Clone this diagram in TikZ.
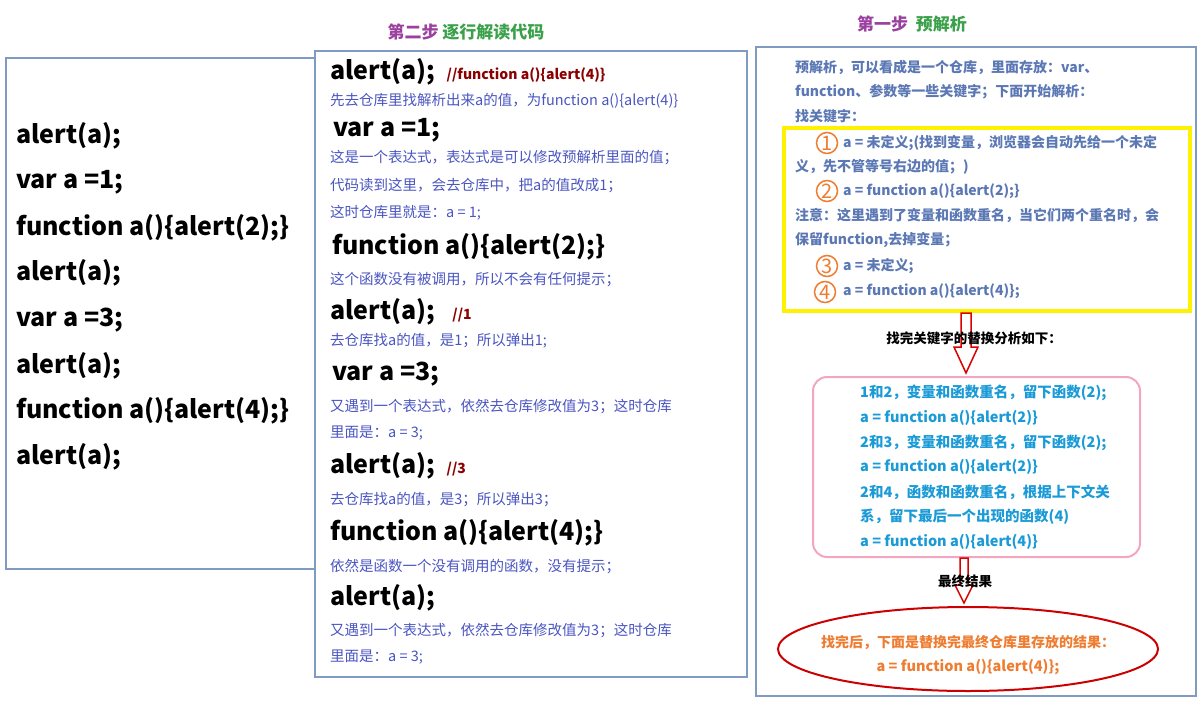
\documentclass[tikz,border=0pt]{standalone}
\usepackage{fontspec}
\setmainfont{Noto Sans CJK SC}
\definecolor{frame}{HTML}{7F9CC0}
\definecolor{expl}{HTML}{4A55C0}
\definecolor{rtext}{HTML}{5B78B5}
\definecolor{cyantx}{HTML}{1A9AD6}
\definecolor{orng}{HTML}{EE7D31}
\definecolor{darkred}{HTML}{8B0000}
\definecolor{purp}{HTML}{9B3FA0}
\definecolor{grn}{HTML}{3AA04A}
\definecolor{pinkb}{HTML}{F2A6C0}
\begin{document}
\begin{tikzpicture}[x=1pt,y=-1pt,
  code/.style={anchor=west,inner sep=0,font=\fontsize{25}{27}\selectfont\bfseries},
  ex/.style={anchor=west,inner sep=0,text=expl,font=\fontsize{14.5}{16}\selectfont},
  rt/.style={anchor=west,inner sep=0,text=rtext,font=\fontsize{14}{16}\selectfont\bfseries},
  ct/.style={anchor=west,inner sep=0,text=cyantx,font=\fontsize{14.5}{16}\selectfont\bfseries},
  num/.style={circle,draw=orng,line width=1.5pt,text=orng,inner sep=0,minimum size=21pt,font=\fontsize{20}{20}\selectfont},
  panel/.style={draw=frame,line width=2pt},
  harrow/.style={draw=red!85!black,line width=1.5pt,fill=white}]
\useasboundingbox (0,0) rectangle (1198,714);
% left
\node[panel,minimum width=309pt,minimum height=511pt,anchor=north west,inner sep=0] (lbox) at (5,57) {};
\foreach \t/\y [count=\i] in {alert(a);/136,var a =1;/182,function a()\{alert(2);\}/228,alert(a);/273,var a =3;/320,alert(a);/366,function a()\{alert(4);\}/411,alert(a);/457}
  \node[code] (l\i) at (16,\y) {\t};
% middle
\node[panel,minimum width=432pt,minimum height=626pt,anchor=north west,inner sep=0] (mbox) at (314,50) {};
\node[inner sep=0,font=\fontsize{17}{17}\selectfont\bfseries] (t2) at (466,32) {\textcolor{purp}{第二步} \textcolor{grn}{逐行解读代码}};
\node[code] (m1) at (330,72) {alert(a);\ \ \textcolor{darkred}{\fontsize{14}{14}\selectfont //function a()\{alert(4)\}}};
\node[ex] (e1) at (330,101) {先去仓库里找解析出来a的值，为function a()\{alert(4)\}};
\node[code] (m2) at (333,130) {var a =1;};
\node[ex] (e2) at (330,158) {这是一个表达式，表达式是可以修改预解析里面的值；};
\node[ex] (e3) at (330,186) {代码读到这里，会去仓库中，把a的值改成1；};
\node[ex] (e4) at (330,213) {这时仓库里就是：a = 1;};
\node[code] (m3) at (332,247) {function a()\{alert(2);\}};
\node[ex] (e5) at (330,280) {这个函数没有被调用，所以不会有任何提示；};
\node[code] (m4) at (330,312) {alert(a);\ \ \ \textcolor{darkred}{\fontsize{14}{14}\selectfont //1}};
\node[ex] (e6) at (330,341) {去仓库找a的值，是1；所以弹出1;};
\node[code] (m5) at (332,374) {var a =3;};
\node[ex] (e7) at (330,407) {又遇到一个表达式，依然去仓库修改值为3；这时仓库};
\node[ex] (e8) at (330,433) {里面是：a = 3;};
\node[code] (m6) at (330,466) {alert(a);\ \ \textcolor{darkred}{\fontsize{14}{14}\selectfont //3}};
\node[ex] (e9) at (330,500) {去仓库找a的值，是3；所以弹出3；};
\node[code] (m7) at (330,533) {function a()\{alert(4);\}};
\node[ex] (e10) at (330,567) {依然是函数一个没有调用的函数，没有提示；};
\node[code] (m8) at (330,598) {alert(a);};
\node[ex] (e11) at (330,631) {又遇到一个表达式，依然去仓库修改值为3；这时仓库};
\node[ex] (e12) at (330,657) {里面是：a = 3;};
% right
\node[panel,minimum width=440pt,minimum height=649pt,anchor=north west,inner sep=0] (rbox) at (755,46) {};
\node[inner sep=0,font=\fontsize{17}{17}\selectfont\bfseries] (t1) at (912,24) {\textcolor{purp}{第一步}\ \ \textcolor{grn}{预解析}};
\node[rt] (r1) at (795,67) {预解析，可以看成是一个仓库，里面存放：var、};
\node[rt] (r2) at (795,92) {function、参数等一些关键字；下面开始解析：};
\node[rt] (r3) at (795,116) {找关键字：};
\draw[yellow,line width=4pt] (784,128) rectangle (1190,311);
\node[num] (n1) at (827,143) {1};
\node[rt] (y1) at (843,143) {a = 未定义;(找到变量，浏览器会自动先给一个未定};
\node[rt] (y2) at (795,167) {义，先不管等号右边的值；)};
\node[num] (n2) at (827,191) {2};
\node[rt] (y3) at (843,191) {a = function a()\{alert(2);\}};
\node[rt] (y4) at (795,216) {注意：这里遇到了变量和函数重名，当它们两个重名时，会};
\node[rt] (y5) at (795,240) {保留function,去掉变量；};
\node[num] (n3) at (827,266) {3};
\node[rt] (y6) at (843,266) {a = 未定义;};
\node[num] (n4) at (825,292) {4};
\node[rt] (y7) at (843,291) {a = function a()\{alert(4)\};};
% arrow 1
\draw[harrow] (961,313) -- (971,313) -- (971,347) -- (978,347) -- (966,373) -- (954,347) -- (961,347) -- cycle;
\node[inner sep=0,font=\fontsize{13.5}{15}\selectfont\bfseries] (k1) at (974,338) {找完关键字的替换分析如下：};
\draw[pinkb,line width=2pt,rounded corners=14pt] (813,377) rectangle (1140,557);
\node[ct] (c1) at (860,393) {1和2，变量和函数重名，留下函数(2);};
\node[ct] (c2) at (860,418) {a = function a()\{alert(2)\}};
\node[ct] (c3) at (860,443) {2和3，变量和函数重名，留下函数(2);};
\node[ct] (c4) at (860,467) {a = function a()\{alert(2)\}};
\node[ct] (c5) at (860,492) {2和4，函数和函数重名，根据上下文关};
\node[ct] (c6) at (860,517) {系，留下最后一个出现的函数(4)};
\node[ct] (c7) at (860,542) {a = function a()\{alert(4)\}};
% arrow 2
\draw[harrow] (960,558) -- (968,558) -- (968,585) -- (973,585) -- (964,603) -- (955,585) -- (960,585) -- cycle;
\node[inner sep=0,font=\fontsize{13.5}{15}\selectfont\bfseries] (k2) at (965,581) {最终结果};
\draw[red!80!black,line width=2pt] (968,649) ellipse (190pt and 42pt);
\node[inner sep=0,text=orng,font=\fontsize{14}{15}\selectfont\bfseries] (o1) at (968,643) {找完后，下面是替换完最终仓库里存放的结果：};
\node[inner sep=0,text=orng,font=\fontsize{14.5}{15}\selectfont\bfseries] (o2) at (968,667) {a = function a()\{alert(4)\};};
\end{tikzpicture}
\end{document}
